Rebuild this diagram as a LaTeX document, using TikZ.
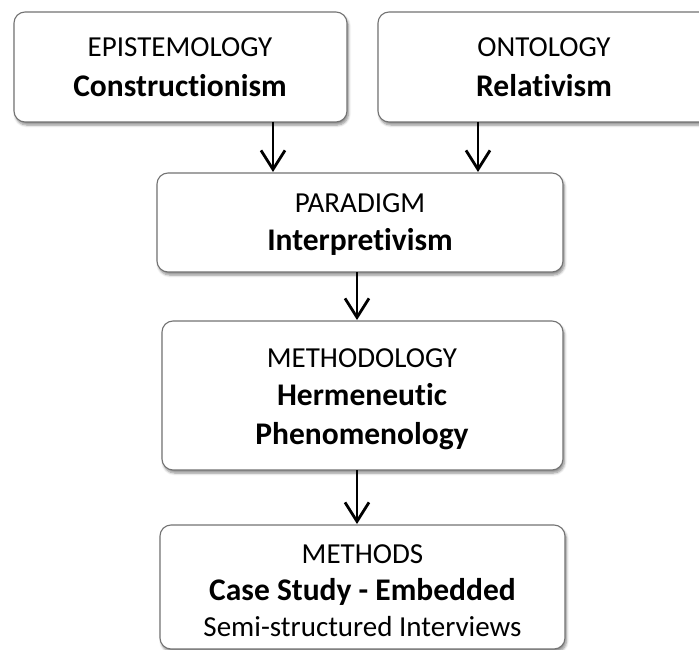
\documentclass[tikz,border=0pt]{standalone}
\usepackage{fontspec}
\setmainfont{Carlito}[Ligatures={NoCommon,NoContextual}]
\usetikzlibrary{arrows.meta,shadows.blur}
\tikzset{
  box/.style={draw=black!55, line width=1.1pt, rounded corners=11pt, fill=white,
    blur shadow={shadow xshift=1.5pt, shadow yshift=-3pt, shadow blur steps=6, shadow blur radius=2.5pt, shadow opacity=45}},
  reg/.style={anchor=base, font=\fontsize{29}{34}\selectfont, inner sep=0pt},
  bld/.style={anchor=base, font=\fontsize{31.5}{36}\bfseries\selectfont, inner sep=0pt},
  arr/.style={line width=2.8pt, -{Straight Barb[length=19pt,width=24pt,line width=2.8pt]}},
}
\begin{document}
\begin{tikzpicture}[x=1pt,y=-1pt]
\useasboundingbox (0,0) rectangle (699,650);
\clip (0,0) rectangle (699,650);
% boxes
\draw[box] (14,12) rectangle (347,122);
\draw[box] (378,12) rectangle (710,122);
\draw[box] (157,173) rectangle (563,272);
\draw[box] (162,321) rectangle (563,470);
\draw[box] (160,525) rectangle (565,649);
% named anchors
\coordinate (e) at (273,122);
\coordinate (o) at (478,122);
\coordinate (pt1) at (273,172);
\coordinate (pt2) at (478,172);
\coordinate (pb) at (357,272);
\coordinate (mt) at (357,320);
\coordinate (mb) at (357,470);
\coordinate (st) at (357,524);
% text
\node[reg] (t1a) at (180,57) {EPISTEMOLOGY};
\node[bld] (t1b) at (180,97) {Constructionism};
\node[reg] (t2a) at (544,57) {ONTOLOGY};
\node[bld] (t2b) at (544,97) {Relativism};
\node[reg] (t3a) at (360,212) {PARADIGM};
\node[bld] (t3b) at (360,250) {Interpretivism};
\node[reg] (t4a) at (362,367) {METHODOLOGY};
\node[bld] (t4b) at (362,405) {Hermeneutic};
\node[bld] (t4c) at (362,444) {Phenomenology};
\node[reg] (t5a) at (362.5,563) {METHODS};
\node[bld] (t5b) at (362.5,600) {Case Study - Embedded};
\node[reg] (t5c) at (362.5,636) {Semi-structured Interviews};
% arrows
\draw[arr] (e) -- (pt1);
\draw[arr] (o) -- (pt2);
\draw[arr] (pb) -- (mt);
\draw[arr] (mb) -- (st);
\end{tikzpicture}
\end{document}
